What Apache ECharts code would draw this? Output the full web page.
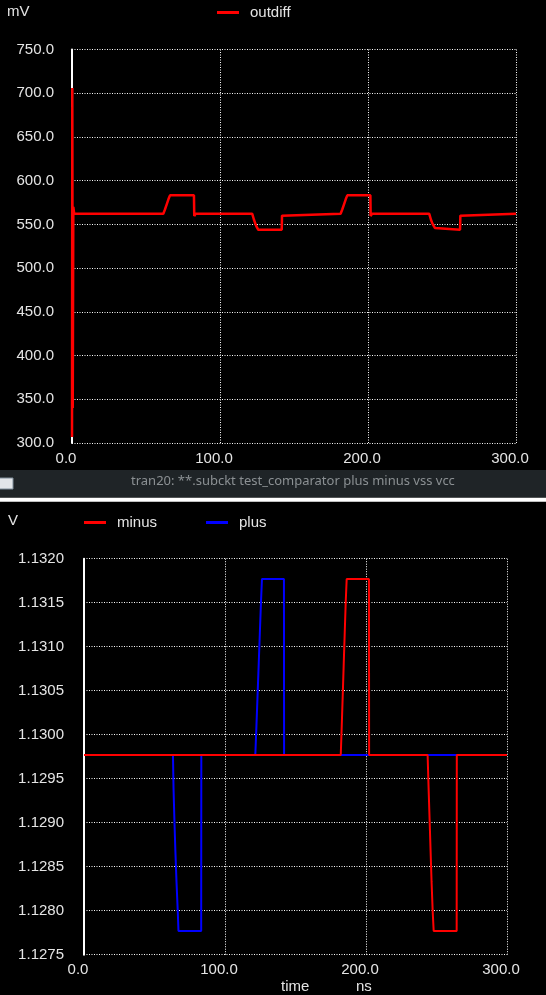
<!DOCTYPE html>
<html>
<head>
<meta charset="utf-8">
<script src="https://cdn.jsdelivr.net/npm/echarts@6/dist/echarts.min.js"></script>
<style>
html,body{margin:0;padding:0;background:#000;}
#c{width:546px;height:995px;}
</style>
</head>
<body>
<div id="c"></div>
<script>
// ---- Data (time in ns) ----
var xTicks = [0, 100, 200, 300];
var topYTicks = [300, 350, 400, 450, 500, 550, 600, 650, 700, 750];
var botYTicks = [1.1275, 1.128, 1.1285, 1.129, 1.1295, 1.13, 1.1305, 1.131, 1.1315, 1.132];

// outdiff (mV)
var outdiffT = [0, 0.2, 0.5, 0.9, 1.5, 61.7, 62.8, 64.0, 65.2, 66.2, 82.4, 82.6, 83.4, 121.8, 123.0, 124.5, 125.9, 141.7, 141.9, 142.6, 181.5, 182.6, 183.8, 185.0, 186.0, 201.6, 201.8, 202.6, 241.4, 242.6, 243.8, 245.2, 246.4, 262.2, 262.4, 263.0, 300];
var outdiffV = [307, 706, 340, 570, 562.1, 562.1, 567, 573, 579, 583.2, 583.2, 559.5, 562.1, 562.1, 555, 548, 543.8, 543.8, 560, 562.1, 562.1, 567, 573, 579, 583.2, 583.2, 559.5, 562.1, 562.1, 555, 550, 546, 543.8, 543.8, 560, 562.1, 562.1];

// plus (V)
var plusT = [0, 63.1, 63.5, 64.1, 64.8, 65.6, 66.5, 67.0, 83.1, 83.2, 121.5, 122.3, 123.1, 123.9, 124.7, 125.5, 126.2, 141.8, 141.9, 300];
var plusV = [1.12977, 1.12977, 1.12939, 1.12904, 1.12868, 1.12833, 1.12799, 1.12777, 1.12777, 1.12977, 1.12977, 1.13010, 1.13045, 1.13080, 1.13115, 1.13150, 1.13177, 1.13177, 1.12977, 1.12977];

// minus (V)
var minusT = [0, 182.1, 182.8, 183.5, 184.2, 184.9, 185.6, 186.3, 202.1, 202.2, 243.7, 244.4, 245.1, 245.8, 246.5, 247.3, 248.0, 264.3, 264.4, 300];
var minusV = [1.12977, 1.12977, 1.13010, 1.13045, 1.13080, 1.13115, 1.13150, 1.13177, 1.13177, 1.12977, 1.12977, 1.12939, 1.12904, 1.12868, 1.12833, 1.12799, 1.12777, 1.12777, 1.12977, 1.12977];

function pairs(t, v) { return t.map(function (x, i) { return [x, v[i]]; }); }

var FONT = 'Liberation Sans';
var TXT = '#e4e4e4';
var dotted = { color: '#ffffff', width: 1, type: [1, 1.5] };

function xAxis(gi, margin) {
  return {
    type: 'value', gridIndex: gi, min: xTicks[0], max: xTicks[xTicks.length - 1], interval: 100,
    axisLine: { show: false }, axisTick: { show: false },
    splitLine: { show: true, lineStyle: dotted },
    axisLabel: { color: TXT, fontFamily: FONT, fontSize: 15, margin: margin, padding: [0, 12, 0, 0],
      formatter: function (v) { return v.toFixed(1); } }
  };
}
function yAxis(gi, ticks, interval, dec, margin) {
  return {
    type: 'value', gridIndex: gi, min: ticks[0], max: ticks[ticks.length - 1], interval: interval,
    axisLine: { show: true, onZero: false, lineStyle: { color: '#ffffff', width: 2 } },
    axisTick: { show: false },
    splitLine: { show: true, lineStyle: dotted },
    axisLabel: { color: TXT, fontFamily: FONT, fontSize: 15, margin: margin,
      formatter: function (v) { return v.toFixed(dec); } }
  };
}

var chart = echarts.init(document.getElementById('c'), null, { renderer: 'canvas' });
chart.setOption({
  backgroundColor: '#000000',
  animation: false,
  textStyle: { fontFamily: FONT },
  grid: [
    { left: 72, right: 30, top: 49.5, height: 393.5, containLabel: false },
    { left: 84, right: 39, top: 558.7, height: 396, containLabel: false }
  ],
  legend: [
    { left: 217, top: 5, padding: 0, icon: 'rect', itemWidth: 22, itemHeight: 3, itemGap: 49,
      data: ['outdiff'], textStyle: { color: TXT, fontSize: 15, fontFamily: FONT, padding: [0, 0, 0, 6] } },
    { left: 84, top: 515, padding: 0, icon: 'rect', itemWidth: 22, itemHeight: 3, itemGap: 49,
      data: ['minus', 'plus'], textStyle: { color: TXT, fontSize: 15, fontFamily: FONT, padding: [0, 0, 0, 6] } }
  ],
  xAxis: [xAxis(0, 8), xAxis(1, 8)],
  yAxis: [yAxis(0, topYTicks, 50, 1, 18), yAxis(1, botYTicks, 0.0005, 4, 20)],
  series: [
    { name: 'outdiff', type: 'line', xAxisIndex: 0, yAxisIndex: 0, data: pairs(outdiffT, outdiffV),
      showSymbol: false, color: '#ff0000', lineStyle: { color: '#ff0000', width: 2.5 } },
    { name: 'plus', type: 'line', xAxisIndex: 1, yAxisIndex: 1, data: pairs(plusT, plusV),
      showSymbol: false, color: '#0000ff', lineStyle: { color: '#0000ff', width: 2 } },
    { name: 'minus', type: 'line', xAxisIndex: 1, yAxisIndex: 1, data: pairs(minusT, minusV),
      showSymbol: false, color: '#ff0000', lineStyle: { color: '#ff0000', width: 2 } }
  ],
  graphic: [
    { type: 'text', left: 7, top: 4, style: { text: 'mV', fill: TXT, font: '15px "Liberation Sans"' } },
    { type: 'text', left: 8, top: 513, style: { text: 'V', fill: TXT, font: '15px "Liberation Sans"' } },
    { type: 'text', left: 281, top: 979, style: { text: 'time', fill: TXT, font: '15px "Liberation Sans"' } },
    { type: 'text', left: 356, top: 979, style: { text: 'ns', fill: TXT, font: '15px "Liberation Sans"' } },
    { type: 'rect', shape: { x: 0, y: 470, width: 546, height: 27.7 }, style: { fill: '#1f2427' } },
    { type: 'rect', shape: { x: 0, y: 497.7, width: 546, height: 4 }, style: { fill: '#ffffff' } },
    { type: 'rect', shape: { x: -2, y: 478, width: 15, height: 11 }, style: { fill: '#e2e5e9', stroke: '#7f8c99', lineWidth: 1 } },
    { type: 'text', left: 131, top: 475, style: { text: 'tran20: **.subckt test_comparator plus minus vss vcc', fill: '#8b9093', font: '13px "Noto Sans"' } }
  ]
});
</script>
</body>
</html>
